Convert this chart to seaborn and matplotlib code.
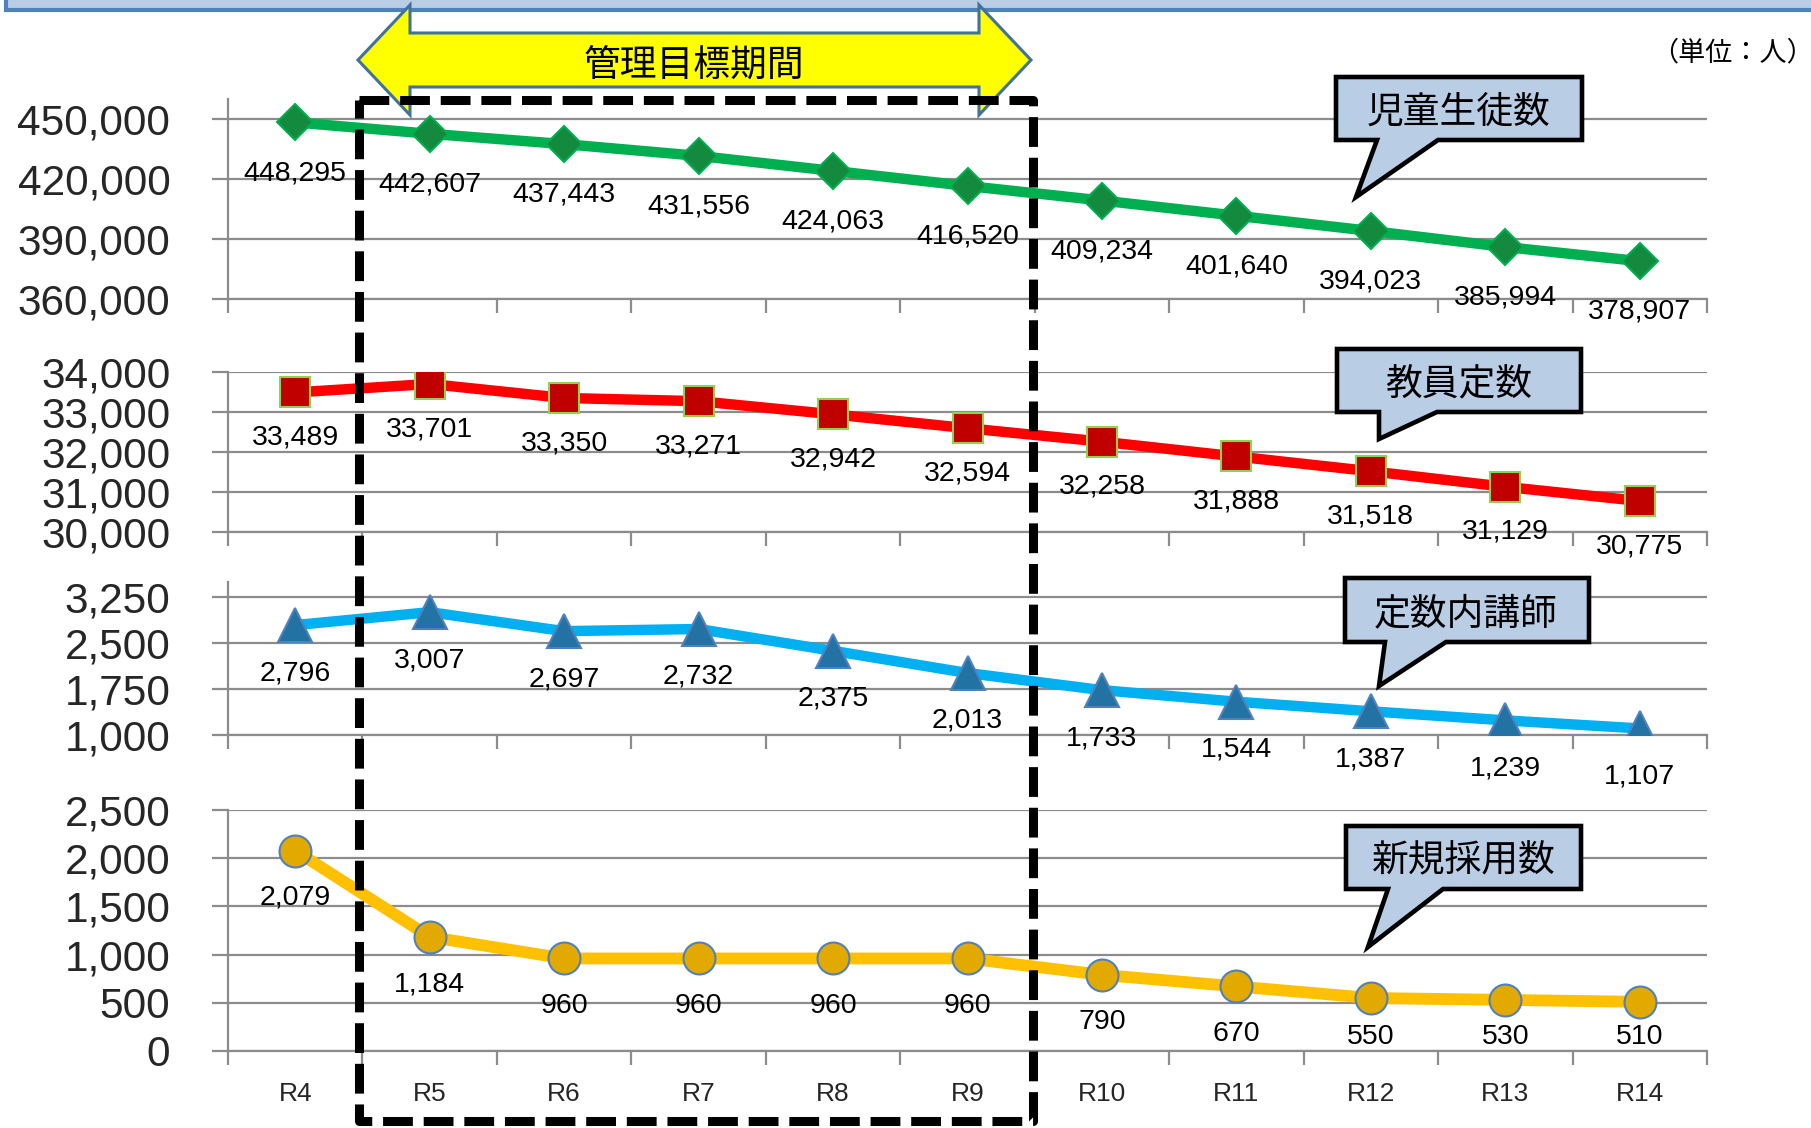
import numpy as np
import pandas as pd
import matplotlib
matplotlib.use("Agg")
import matplotlib.pyplot as plt
import seaborn as sns
from matplotlib.patches import Polygon, Rectangle
from matplotlib.lines import Line2D
from matplotlib.transforms import Affine2D

# ---------------- data ----------------
years = ["R4", "R5", "R6", "R7", "R8", "R9", "R10", "R11", "R12", "R13", "R14"]
students = [448295, 442607, 437443, 431556, 424063, 416520, 409234, 401640, 394023, 385994, 378907]
teachers = [33489, 33701, 33350, 33271, 32942, 32594, 32258, 31888, 31518, 31129, 30775]
lecturers = [2796, 3007, 2697, 2732, 2375, 2013, 1733, 1544, 1387, 1239, 1107]
hires = [2079, 1184, 960, 960, 960, 960, 790, 670, 550, 530, 510]
series_names = ["児童生徒数", "教員定数", "定数内講師", "新規採用数"]
ticks_students = [360000, 390000, 420000, 450000]
ticks_teachers = [30000, 31000, 32000, 33000, 34000]
ticks_lecturers = [1000, 1750, 2500, 3250]
ticks_hires = [0, 500, 1000, 1500, 2000, 2500]
period_label = "管理目標期間"
unit_label = "（単位：人）"

# ---------------- style ----------------
sns.set_style("white")
plt.rcParams["font.family"] = ["Liberation Sans", "Noto Sans CJK JP", "DejaVu Sans"]
JP = ["Noto Sans CJK JP", "DejaVu Sans"]

W, H = 1811, 1128
fig = plt.figure(figsize=(W / 100, H / 100), dpi=100)
fig.patch.set_facecolor("white")
PX = Affine2D().scale(1 / W, -1 / H).translate(0, 1) + fig.transFigure

GRID = "#8c8c8c"
LEFT, RIGHT = 228, 1707

panels = [
    dict(vals=students, ticks=ticks_students, ylim=(360000, 460000), top=99, bottom=299,
         color="#00b050", marker="D", ms=18.5, fc="#138a3d", ec="#00b050", off=36.5),
    dict(vals=teachers, ticks=ticks_teachers, ylim=(30000, 34000), top=372, bottom=532,
         color="#ff0000", marker="s", ms=21.5, fc="#c00000", ec="#92d050", off=32.5),
    dict(vals=lecturers, ticks=ticks_lecturers, ylim=(1000, 3500), top=582, bottom=735,
         color="#00b0f0", marker="^", ms=24, fc="#2272a3", ec="#4f81bd", off=34.5),
    dict(vals=hires, ticks=ticks_hires, ylim=(0, 2500), top=810, bottom=1051,
         color="#ffc000", marker="o", ms=23, fc="#e2a900", ec="#4f81bd", off=34),
]

for k, p in enumerate(panels):
    last = k == len(panels) - 1
    ax = fig.add_axes([LEFT / W, 1 - p["bottom"] / H, (RIGHT - LEFT) / W, (p["bottom"] - p["top"]) / H])
    df = pd.DataFrame({"year": years, "value": p["vals"]})
    sns.lineplot(data=df, x="year", y="value", ax=ax, sort=False, color=p["color"],
                 linewidth=7.5 if not last else 8.5, marker=p["marker"], markersize=p["ms"],
                 markerfacecolor=p["fc"], markeredgecolor=p["ec"], markeredgewidth=1.5,
                 solid_joinstyle="round", solid_capstyle="round", zorder=3)
    ax.set_xlim(-0.5, len(years) - 0.5)
    ax.set_ylim(*p["ylim"])
    ax.set_xlabel("")
    ax.set_ylabel("")
    ax.set_facecolor("none")
    ax.set_yticks(p["ticks"])
    ax.set_yticklabels([f"{t:,}" for t in p["ticks"]])
    ax.yaxis.grid(True, color=GRID, linewidth=1.6)
    ax.xaxis.grid(False)
    ax.set_axisbelow(True)
    ax.tick_params(axis="y", length=11.5, width=1.6, color=GRID, pad=30, labelsize=30.5,
                   direction="out", left=True)
    ax.set_xticks(range(len(years)))
    ax.set_xticklabels(years if last else [""] * len(years))
    ax.set_xticks(np.arange(-0.5, len(years), 1.0), minor=True)
    ax.tick_params(axis="x", which="major", length=0, labelsize=19, pad=22)
    ax.tick_params(axis="x", which="minor", length=10, width=1.6, color=GRID, direction="out",
                   bottom=True)
    for s in ["top", "right"]:
        ax.spines[s].set_visible(False)
    for s in ["left", "bottom"]:
        ax.spines[s].set_color(GRID)
        ax.spines[s].set_linewidth(1.6)
    # data labels
    hpx = p["bottom"] - p["top"]
    kpx = hpx / (p["ylim"][1] - p["ylim"][0])
    for i, v in enumerate(p["vals"]):
        off_px = p["off"] * 100 / 72
        if last:
            off_px = min(off_px, (v - p["ylim"][0]) * kpx - 14)
        ax.annotate(f"{v:,}", xy=(i, v), xytext=(0, -off_px * 72 / 100), textcoords="offset points",
                    ha="center", va="center", fontsize=20.5, color="black", zorder=5)

# ---------------- decorations (pixel coordinates) ----------------
# top band
fig.patches.append(Rectangle((6, -60), 1900, 70, transform=PX, facecolor="#b9cde5",
                             edgecolor="#4f81bd", linewidth=3, zorder=1))

# yellow double arrow
arrow = [(358, 60), (410, 5), (410, 33), (979, 33), (979, 5), (1031, 60),
         (979, 115), (979, 87), (410, 87), (410, 115)]
fig.patches.append(Polygon(arrow, closed=True, transform=PX, facecolor="#ffff00",
                           edgecolor="#41719c", linewidth=2.2, joinstyle="miter", zorder=6))
fig.text(694, 65, period_label, transform=PX, ha="center", va="center", fontsize=26.5,
         family=JP, color="black", zorder=7)

# dashed management period box
box = Line2D([359, 1033, 1033, 359, 359], [100, 100, 1121, 1121, 100], transform=PX,
             color="black", linewidth=6.5, linestyle=(0, (3.3, 1.2)), zorder=8)
fig.add_artist(box)

# unit label
fig.text(1814, 53, unit_label, transform=PX, ha="right", va="center", fontsize=19.5,
         family=JP, color="black")

# callout bubbles
bubbles = [
    (1336, 1582, 77, 140, 1377, 1438, (1356, 197), 1459, 112),
    (1337, 1581, 349, 412, 1379, 1437, (1379, 439), 1459, 385),
    (1345, 1589, 578, 642, 1385, 1446, (1379, 686), 1466, 614),
    (1346, 1581, 826, 889, 1388, 1443, (1368, 947), 1464, 861),
]
for name, (l, r, t, b, b1, b2, tip, tx, ty) in zip(series_names, bubbles):
    pts = [(l, t), (r, t), (r, b), (b2, b), tip, (b1, b), (l, b)]
    fig.patches.append(Polygon(pts, closed=True, transform=PX, facecolor="#b9cde5",
                               edgecolor="black", linewidth=3.3, joinstyle="miter", zorder=9))
    fig.text(tx, ty, name, transform=PX, ha="center", va="center", fontsize=26.5, family=JP,
             color="black", zorder=10)

fig.savefig("out.png", dpi=100, facecolor="white")
